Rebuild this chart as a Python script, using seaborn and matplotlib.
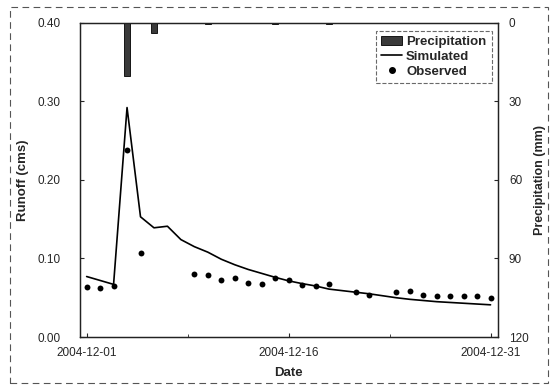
import numpy as np
import pandas as pd
import matplotlib
matplotlib.use("Agg")
import matplotlib.pyplot as plt
import matplotlib.dates as mdates
from matplotlib.patches import Rectangle
from matplotlib.lines import Line2D
from matplotlib.patches import Patch
import seaborn as sns

# ---- data ----
dates = pd.date_range("2004-12-01", "2004-12-31", freq="D")
simulated = [0.077, 0.072, 0.067, 0.292, 0.153, 0.139, 0.141, 0.124, 0.115, 0.108,
             0.099, 0.092, 0.086, 0.081, 0.076, 0.0715, 0.068, 0.065, 0.061, 0.059,
             0.057, 0.055, 0.0525, 0.050, 0.048, 0.0465, 0.045, 0.044, 0.043, 0.042,
             0.041]
observed = [0.064, 0.062, 0.065, 0.238, 0.107, np.nan, np.nan, np.nan, 0.080, 0.079,
            0.072, 0.075, 0.069, 0.067, 0.075, 0.072, 0.066, 0.065, 0.068, np.nan,
            0.0575, 0.053, np.nan, 0.057, 0.059, 0.053, 0.052, 0.052, 0.052, 0.052,
            0.0495]
precipitation = [0, 0, 0, 20.5, 0, 3.8, 0, 0, 0, 0.4,
                 0, 0, 0, 0, 0.4, 0, 0, 0, 0.4, 0,
                 0, 0, 0, 0, 0, 0, 0, 0, 0, 0,
                 0]
left_ticks = [0.00, 0.10, 0.20, 0.30, 0.40]
right_ticks = [0, 30, 60, 90, 120]
date_ticks = ["2004-12-01", "2004-12-16", "2004-12-31"]

df = pd.DataFrame({"Date": dates, "Simulated": simulated,
                   "Observed": observed, "Precipitation": precipitation})

sns.set_style("ticks")
plt.rcParams["font.family"] = ["Liberation Sans", "DejaVu Sans"]
narrow = ["Liberation Sans Narrow", "Liberation Sans", "DejaVu Sans"]

fig = plt.figure(figsize=(5.55, 3.91), dpi=100)
ax = fig.add_axes([0.144, 0.138, 0.753, 0.804])

sns.lineplot(data=df, x="Date", y="Simulated", ax=ax, color="black",
             linewidth=1.2, legend=False)
sns.scatterplot(data=df.dropna(), x="Date", y="Observed", ax=ax, color="black",
                s=18, edgecolor="black", linewidth=0, legend=False)

ax.set_ylim(0, 0.40)
ax.set_yticks(left_ticks)
ax.set_yticklabels([f"{v:.2f}" for v in left_ticks], fontsize=8.5)
ax.set_xlim(dates[0] - pd.Timedelta(hours=12), dates[-1] + pd.Timedelta(hours=13))
ax.set_xticks(pd.to_datetime(date_ticks))
ax.xaxis.set_major_formatter(mdates.DateFormatter("%Y-%m-%d"))
ax.set_xticks(pd.to_datetime(["2004-12-08 12:00", "2004-12-23 12:00"]), minor=True)
ax.tick_params(axis="x", labelsize=8.5, direction="in", length=3, pad=7)
ax.tick_params(axis="x", which="minor", direction="in", length=2)
ax.tick_params(axis="y", direction="in", length=3, pad=14)
ax.set_xlabel("Date", fontsize=9.5, fontweight="bold", family=narrow, labelpad=6)
ax.set_ylabel("Runoff (cms)", fontsize=9.5, fontweight="bold", family=narrow, labelpad=6)

ax2 = ax.twinx()
ax2.bar(df["Date"], df["Precipitation"], width=0.45, color="#3a3a3a",
        edgecolor="black", linewidth=0.6)
ax2.set_ylim(120, 0)
ax2.set_yticks(right_ticks)
ax2.set_yticklabels([str(v) for v in right_ticks], fontsize=8.5)
ax2.tick_params(axis="y", direction="in", length=3, pad=8)
ax2.set_ylabel("Precipitation (mm)", fontsize=9, fontweight="bold", family=narrow,
               labelpad=4)

for a in (ax, ax2):
    for sp in a.spines.values():
        sp.set_linewidth(0.9)
        sp.set_color("#222222")

handles = [Patch(facecolor="#3a3a3a", edgecolor="black", linewidth=0.6),
           Line2D([0], [0], color="black", linewidth=1.2),
           Line2D([0], [0], color="black", marker="o", linestyle="none", markersize=4)]
leg = ax.legend(handles, ["Precipitation", "Simulated", "Observed"],
                loc="upper right", bbox_to_anchor=(0.985, 0.975), frameon=True,
                fancybox=False, prop={"family": narrow, "weight": "bold", "size": 9.5},
                handlelength=1.6, handletextpad=0.3, labelspacing=0.2,
                borderpad=0.4, borderaxespad=0)
leg.get_frame().set_edgecolor("#444444")
leg.get_frame().set_linestyle("--")
leg.get_frame().set_linewidth(0.8)
leg.set_zorder(10)

# scanned page dashed border
fig.patches.append(Rectangle((10 / 555, 8 / 391), 538 / 555, 376 / 391,
                             transform=fig.transFigure, fill=False,
                             edgecolor="#555555", linestyle=(0, (6, 4)),
                             linewidth=0.8))

fig.savefig("out.png", dpi=100)
